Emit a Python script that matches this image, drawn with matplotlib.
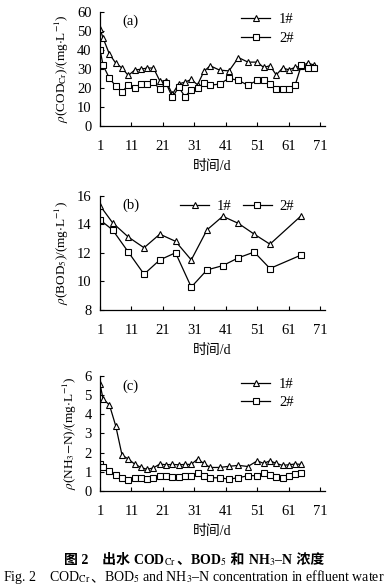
import matplotlib
matplotlib.use("Agg")
import matplotlib.pyplot as plt

plt.rcParams['font.family'] = ['Liberation Serif', 'Noto Sans CJK SC']
plt.rcParams['mathtext.fontset'] = 'stix'

# (a) COD_Cr
days_a = [1, 2, 4, 6, 8, 10, 12, 14, 16, 18, 20, 22, 24, 26, 28, 30, 32, 34, 36,
          39, 42, 45, 48, 51, 53, 55, 57, 59, 61, 63, 65, 67, 69]
cod_1 = [51, 46, 37.7, 33, 30.4, 26.5, 29.3, 29.8, 30.4, 30.4, 23.7, 23.5, 16.7,
         22.1, 23, 24.4, 21.6, 28.6, 31.6, 29.3, 28.9, 35.9, 33.5, 33.5, 30.7,
         31.6, 26.8, 30.4, 29.5, 30.7, 31.5, 33, 32]
cod_2 = [40, 31.8, 25, 21, 18, 21.4, 19.8, 22, 22, 23, 19.3, 22.5, 15, 20.4, 15.4,
         19, 19.8, 22.5, 21.4, 22, 25, 23.9, 21.4, 24, 24, 22, 19.3, 19.3, 19.3,
         21.4, 32, 30.4, 30.4]

# (b) BOD5
days_b = [1, 5, 10, 15, 20, 25, 30, 35, 40, 45, 50, 55, 65]
bod_1 = [15.3, 14.1, 13.1, 12.35, 13.3, 12.8, 11.5, 13.6, 14.55, 14.05, 13.3, 12.6, 14.6]
bod_2 = [14.3, 13.6, 12.05, 10.5, 11.5, 12.0, 9.6, 10.8, 11.1, 11.65, 12.05, 10.9, 11.85]

# (c) NH3-N
days_c = [1, 2, 4, 6, 8, 10, 12, 14, 16, 18, 20, 22, 24, 26, 28, 30, 32, 34, 36,
          39, 42, 45, 48, 51, 53, 55, 57, 59, 61, 63, 65]
nh_1 = [5.6, 4.8, 4.5, 3.4, 1.87, 1.66, 1.4, 1.22, 1.12, 1.2, 1.4, 1.36, 1.38, 1.36,
        1.38, 1.38, 1.66, 1.43, 1.22, 1.22, 1.28, 1.33, 1.27, 1.57, 1.43, 1.57,
        1.43, 1.33, 1.36, 1.4, 1.38]
nh_2 = [1.38, 1.22, 1.03, 0.82, 0.68, 0.56, 0.65, 0.68, 0.63, 0.65, 0.79, 0.79, 0.73,
        0.7, 0.77, 0.77, 0.91, 0.79, 0.68, 0.68, 0.61, 0.68, 0.79, 0.79, 0.94, 0.82,
        0.73, 0.68, 0.79, 0.86, 0.91]

xticks = [1, 11, 21, 31, 41, 51, 61, 71]

# caption pieces: CJK parts as plain text, Latin parts with mathtext subscripts
cap_cn = ['图 2　出水 ', r'COD$_{\rm Cr}$', '、', r'BOD$_5$', ' 和 ', r'NH$_3$–N', ' 浓度']
cap_en = [r'Fig. 2    COD$_{\rm Cr}$', '、', r'BOD$_5$ and NH$_3$–N concentration in effluent water']

W, H = 388, 587
fig = plt.figure(figsize=(W / 100, H / 100), dpi=100)

panels = [
    (0.7853, days_a, cod_1, cod_2, (0, 60), [0, 10, 20, 30, 40, 50, 60],
     r'$\rho$(COD$_{\rm Cr}$)/(mg$\cdot$L$^{-1}$)', '(a)', 'col'),
    (0.4719, days_b, bod_1, bod_2, (8, 16), [8, 10, 12, 14, 16],
     r'$\rho$(BOD$_5$)/(mg$\cdot$L$^{-1}$)', '(b)', 'row'),
    (0.164, days_c, nh_1, nh_2, (0, 6), [0, 1, 2, 3, 4, 5, 6],
     r'$\rho$(NH$_3$$-$N)/(mg$\cdot$L$^{-1}$)', '(c)', 'col'),
]

for bottom, d, s1, s2, ylim, yticks, ylab, tag, leg in panels:
    ax = fig.add_axes([0.2577, bottom, 0.58, 0.195])
    ax.plot(d, s1, '-', color='black', lw=0.9, marker='^', ms=4.8,
            mfc='white', mec='black', mew=0.8, label='1#')
    ax.plot(d, s2, '-', color='black', lw=0.9, marker='s', ms=4.8,
            mfc='white', mec='black', mew=0.8, label='2#')
    ax.set_xlim(1, 72.5)
    ax.set_ylim(*ylim)
    ax.set_xticks(xticks)
    ax.set_yticks(yticks)
    ax.spines['top'].set_visible(False)
    ax.spines['right'].set_visible(False)
    ax.spines['left'].set_linewidth(0.9)
    ax.spines['bottom'].set_linewidth(0.9)
    ax.tick_params(direction='in', length=3, width=0.8, labelsize=10.5)
    ax.tick_params(axis='x', pad=10)
    ax.tick_params(axis='y', pad=6)
    ax.set_ylabel(ylab, fontsize=9.5, labelpad=4)
    ax.set_xlabel('时间/d', fontsize=10, labelpad=5)
    ax.text(0.1, 0.88, tag, transform=ax.transAxes, fontsize=10.5)
    if leg == 'col':
        ax.legend(loc='upper right', bbox_to_anchor=(0.92, 1.1), frameon=False,
                  fontsize=10.5, numpoints=1, handlelength=2.0, labelspacing=0.35,
                  handletextpad=0.6)
    else:
        ax.legend(loc='upper right', bbox_to_anchor=(0.92, 1.08), frameon=False,
                  fontsize=10.5, numpoints=1, handlelength=2.0, ncol=2,
                  columnspacing=0.8, handletextpad=0.5)


def rich_line(y_px, pieces, size, weight='normal'):
    # lay out text pieces side by side, centred on the figure
    r = fig.canvas.get_renderer()
    items = []
    for s in pieces:
        t = fig.text(0, 0, s, fontsize=size, fontweight=weight, ha='left', va='baseline')
        items.append((t, t.get_window_extent(r).width))
    x = (W - sum(w for _, w in items)) / 2
    for t, w in items:
        t.set_position((x / W, 1 - y_px / H))
        x += w


rich_line(564, cap_cn, 10, 'bold')
rich_line(581, cap_en, 10)

fig.savefig('out.png', dpi=100)
